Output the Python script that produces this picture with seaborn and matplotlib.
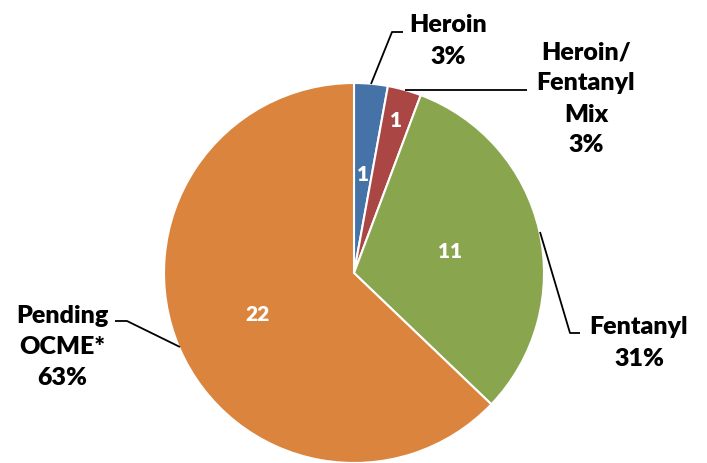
import numpy as np
import matplotlib
matplotlib.use("Agg")
import matplotlib.pyplot as plt
import seaborn as sns

# data
categories = ["Heroin", "Heroin/\nFentanyl\nMix", "Fentanyl", "Pending\nOCME*"]
counts = [1, 1, 11, 22]
colors = ["#4572A7", "#AA4643", "#89A54E", "#DB843D"]

sns.set_style("white")
plt.rcParams['font.family'] = ['Lato', 'DejaVu Sans']

W, H = 707, 463
fig = plt.figure(figsize=(W / 100, H / 100), dpi=100)
ax = fig.add_axes([0, 0, 1, 1])

cx, cy, r = 354, 463 - 273, 190
wedges, _ = ax.pie(counts, colors=sns.color_palette(colors), startangle=90,
                   counterclock=False, center=(cx, cy), radius=r, frame=True,
                   wedgeprops=dict(edgecolor='white', linewidth=1.5))
ax.set_xlim(0, W)
ax.set_ylim(0, H)
ax.set_aspect('equal')
ax.axis('off')

total = sum(counts)
pcts = [f"{round(c / total * 100)}%" for c in counts]

# value labels inside the slices
angles = []
start = 90
for c in counts:
    sweep = 360 * c / total
    angles.append(start - sweep / 2)
    start -= sweep
inner_r = [0.52, 0.83, 0.52, 0.55]
for c, a, ir in zip(counts, angles, inner_r):
    t = np.deg2rad(a)
    ax.text(cx + ir * r * np.cos(t), cy + ir * r * np.sin(t), str(c),
            color='white', fontsize=15, fontweight='heavy', ha='center', va='center')
# the blue slice label sits lower than the ring would put it
ax.texts[0].set_position((362, 463 - 180))

# leader lines (pixel coordinates flipped)
def line(pts):
    xs = [p[0] for p in pts]
    ys = [463 - p[1] for p in pts]
    ax.plot(xs, ys, color='black', lw=1.3, solid_capstyle='butt')

line([(371, 84), (392, 32), (403, 32)])
line([(405, 90), (527, 90)])
line([(540, 232), (570, 333), (580, 333)])
line([(180, 347), (127, 321), (115, 321)])

lab_kw = dict(fontsize=18, fontweight='heavy', ha='center', va='center',
              linespacing=1.5, color='black')
ax.text(448, 463 - 41, f"{categories[0]}\n{pcts[0]}", **lab_kw)
ax.text(586, 463 - 99, f"{categories[1]}\n{pcts[1]}", **lab_kw)
ax.text(639, 463 - 343, f"{categories[2]}\n{pcts[2]}", **lab_kw)
ax.text(62, 463 - 347, f"{categories[3]}\n{pcts[3]}", **lab_kw)

fig.savefig("out.png", dpi=100, facecolor='white')
